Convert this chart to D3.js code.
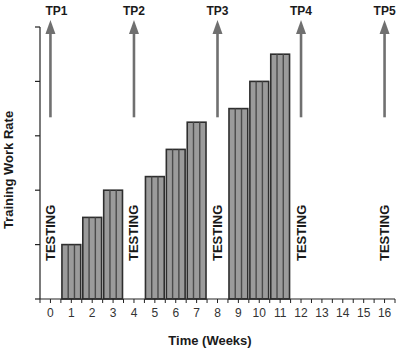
<!DOCTYPE html>
<html><head><meta charset="utf-8">
<script src="https://cdn.jsdelivr.net/npm/d3@7"></script>
<style>body{margin:0;background:#fff}svg{display:block}text{font-family:"Liberation Sans",Arial,sans-serif}</style>
</head><body>
<svg id="c" width="396" height="352"></svg>
<script>
const weeks = d3.range(0, 17);
const trainingWeeks = [1, 2, 3, 5, 6, 7, 9, 10, 11];
const workRate = [1, 1.5, 2, 2.25, 2.75, 3.25, 3.5, 4, 4.5];
const testingWeeks = [0, 4, 8, 12, 16];
const tpLabels = ["TP1", "TP2", "TP3", "TP4", "TP5"];
const yTicks = [0, 1, 2, 3, 4, 5];
const arrowFrom = 3.34, arrowTo = 5.13;

const svg = d3.select("#c");
const x = d3.scaleLinear().domain([-0.5, 16.5]).range([40, 395]);
const y = d3.scaleLinear().domain([0, 5]).range([299, 27]);

// bars
const bars = svg.append("g");
trainingWeeks.forEach((w, i) => {
  const x0 = x(w - 0.45), x1 = x(w + 0.45), yt = y(workRate[i]);
  const g = bars.append("g");
  g.append("rect").attr("x", x0).attr("y", yt).attr("width", x1 - x0).attr("height", y(0) - yt)
    .attr("fill", "#9b9b9b").attr("stroke", "#2e2e2e").attr("stroke-width", 1.6);
  [1/3, 2/3].forEach(f => {
    const xx = x0 + (x1 - x0) * f;
    g.append("line").attr("x1", xx).attr("x2", xx).attr("y1", yt).attr("y2", y(0))
      .attr("stroke", "#4a4a4a").attr("stroke-width", 1.4);
  });
});

// y axis
const yAxis = svg.append("g");
yAxis.append("line").attr("x1", 40).attr("x2", 40).attr("y1", y(5)).attr("y2", y(0))
  .attr("stroke", "#222").attr("stroke-width", 1.2);
yAxis.selectAll("line.t").data(yTicks).join("line").attr("class", "t")
  .attr("x1", 35).attr("x2", 40).attr("y1", d => y(d)).attr("y2", d => y(d))
  .attr("stroke", "#222").attr("stroke-width", 1.2);

// x axis
const xAxis = svg.append("g");
xAxis.append("line").attr("x1", x(-0.5)).attr("x2", x(16.5)).attr("y1", y(0)).attr("y2", y(0))
  .attr("stroke", "#222").attr("stroke-width", 1.2);
const halfTicks = d3.range(-0.5, 16.51, 0.5);
xAxis.selectAll("line.t").data(halfTicks).join("line").attr("class", "t")
  .attr("x1", d => x(d)).attr("x2", d => x(d)).attr("y1", y(0)).attr("y2", y(0) + 4)
  .attr("stroke", "#222").attr("stroke-width", 1);
xAxis.selectAll("text").data(weeks).join("text")
  .attr("x", d => x(d)).attr("y", 317).attr("text-anchor", "middle")
  .attr("font-size", 12).attr("fill", "#333").text(d => d);

// arrows
const arr = svg.append("g");
testingWeeks.forEach((w, i) => {
  const cx = x(w);
  arr.append("line").attr("x1", cx).attr("x2", cx).attr("y1", y(arrowFrom)).attr("y2", y(arrowTo) + 10)
    .attr("stroke", "#707070").attr("stroke-width", 2.6);
  const ty = y(arrowTo);
  arr.append("path").attr("d", `M${cx},${ty} L${cx - 5},${ty + 14} L${cx + 5},${ty + 14} Z`)
    .attr("fill", "#707070");
  arr.append("text").attr("x", cx + (i === 0 ? 6 : 0)).attr("y", 15).attr("text-anchor", "middle")
    .attr("font-size", 12).attr("font-weight", "bold").attr("fill", "#1a1a1a").text(tpLabels[i]);
  arr.append("text").attr("transform", `translate(${cx + 4.5},261) rotate(-90)`)
    .attr("font-size", 13).attr("font-weight", "bold").attr("fill", "#1a1a1a").text("TESTING");
});

// axis titles
svg.append("text").attr("transform", "translate(13,170) rotate(-90)").attr("text-anchor", "middle")
  .attr("font-size", 13).attr("font-weight", "bold").attr("fill", "#1a1a1a").text("Training Work Rate");
svg.append("text").attr("x", 210).attr("y", 345).attr("text-anchor", "middle")
  .attr("font-size", 13).attr("font-weight", "bold").attr("fill", "#1a1a1a").text("Time (Weeks)");
</script>
</body></html>
